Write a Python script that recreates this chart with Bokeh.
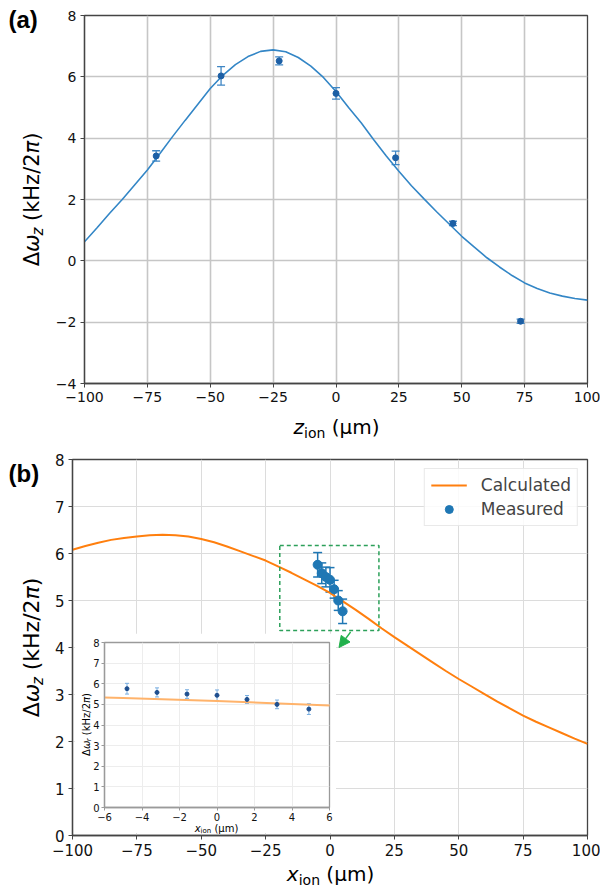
from bokeh.plotting import figure
from bokeh.models import (Range1d, FixedTicker, Whisker, TeeHead, ColumnDataSource,
                          Label, Legend, LegendItem, Arrow, NormalHead, Plot)
from bokeh.layouts import column
from bokeh.embed import file_html
from bokeh.resources import INLINE

# ---------------- panel (a) data ----------------
z_meas = [-71.5, -45.7, -22.6, 0.0, 23.7, 46.5, 73.4]
dwz_meas = [3.42, 6.03, 6.52, 5.46, 3.36, 1.22, -1.97]
dwz_err = [0.17, 0.30, 0.13, 0.19, 0.22, 0.07, 0.07]
z_curve = [-100, -95, -90, -85, -80, -75, -70, -65, -60, -55, -50, -45, -40, -35, -30,
           -25, -20, -15, -10, -5, 0, 5, 10, 15, 20, 25, 30, 35, 40, 45, 50, 55, 60,
           65, 70, 75, 80, 85, 90, 95, 100]
dwz_curve = [0.62, 1.08, 1.55, 2.00, 2.48, 2.96, 3.50, 4.05, 4.58, 5.10, 5.62, 6.05,
             6.40, 6.66, 6.83, 6.88, 6.82, 6.63, 6.35, 5.98, 5.52, 5.00, 4.50, 3.95,
             3.42, 2.92, 2.45, 2.02, 1.60, 1.20, 0.80, 0.45, 0.10, -0.20, -0.48, -0.72,
             -0.90, -1.05, -1.15, -1.23, -1.28]
a_xticks = [-100, -75, -50, -25, 0, 25, 50, 75, 100]
a_yticks = [-4, -2, 0, 2, 4, 6, 8]

# ---------------- panel (b) data ----------------
x_curve = z_curve
dwx_curve = [6.08, 6.16, 6.23, 6.29, 6.33, 6.36, 6.39, 6.40, 6.39, 6.36, 6.31, 6.24,
             6.15, 6.05, 5.95, 5.85, 5.72, 5.59, 5.45, 5.31, 5.16, 4.98, 4.80, 4.61,
             4.41, 4.22, 4.04, 3.86, 3.68, 3.50, 3.33, 3.17, 3.01, 2.85, 2.70, 2.55,
             2.42, 2.30, 2.18, 2.06, 1.95]
x_meas = [-4.8, -3.2, -1.6, 0.0, 1.6, 3.2, 4.9]
dwx_meas = [5.76, 5.58, 5.50, 5.44, 5.24, 5.00, 4.77]
dwx_err = [0.26, 0.22, 0.21, 0.26, 0.19, 0.21, 0.26]
b_xticks = [-100, -75, -50, -25, 0, 25, 50, 75, 100]
b_yticks = [0, 1, 2, 3, 4, 5, 6, 7, 8]
zoom_box_x = [-19.5, 19.0]
zoom_box_y = [4.36, 6.17]
arrow_x = [8.0, 3.5]
arrow_y = [4.33, 4.0]
inset_xticks = [-6, -4, -2, 0, 2, 4, 6]
inset_yticks = [0, 1, 2, 3, 4, 5, 6, 7, 8]
legend_labels = ["Calculated", "Measured"]

FONT = "DejaVu Sans"
EM = {" ": 0.318, "(": 0.390, ")": 0.390, "/": 0.337, "2": 0.636, "k": 0.579,
      "H": 0.752, "z": 0.524, "x": 0.592, "i": 0.278, "o": 0.612, "n": 0.634,
      "µ": 0.636, "m": 0.974, "r": 0.411, "Δ": 0.685, "ω": 0.78, "π": 0.60}
HAS_ALIGN = "frame_align" in Plot.properties()
SHIFT = 0.32  # vertical offset (in em) that the label box adds below its anchor


def no_align(p):
    if HAS_ALIGN:
        p.frame_align = False
    return p


def tw(s, size):
    return sum(EM.get(c, 0.6) for c in s) * size


def neg(t):
    return ("\u2212" + str(abs(t))) if t < 0 else str(t)


def style(p, xt, yt, fs, grid_color, grid_w, axis_color="#444444"):
    p.xaxis.ticker = FixedTicker(ticks=xt)
    p.yaxis.ticker = FixedTicker(ticks=yt)
    p.xaxis.major_label_overrides = {t: neg(t) for t in xt}
    p.yaxis.major_label_overrides = {t: neg(t) for t in yt}
    for ax in (p.xaxis, p.yaxis):
        ax.major_label_text_font = FONT
        ax.major_label_text_font_size = fs
        ax.major_label_text_color = "#111111"
        ax.major_tick_in = 0
        ax.major_tick_out = 4
        ax.minor_tick_line_color = None
        ax.axis_line_color = axis_color
        ax.major_tick_line_color = axis_color
        ax.axis_line_width = 1.3
        ax.major_label_standoff = 4
    p.grid.grid_line_color = grid_color
    p.grid.grid_line_width = grid_w
    p.outline_line_color = axis_color
    p.outline_line_width = 1.3
    p.background_fill_color = "white"
    p.border_fill_color = "white"


# ---------------- panel (a) ----------------
pa = figure(width=600, height=440, x_range=Range1d(-100, 100), y_range=Range1d(-4, 8),
            output_backend="svg", toolbar_location=None,
            min_border_left=84, min_border_right=13, min_border_top=15, min_border_bottom=57)
no_align(pa)
style(pa, a_xticks, a_yticks, "14px", "#c6c6c6", 1.6)
pa.line(z_curve, dwz_curve, line_color="#3386c6", line_width=1.6)
src_a = ColumnDataSource(dict(x=z_meas, y=dwz_meas,
                              lo=[v - e for v, e in zip(dwz_meas, dwz_err)],
                              hi=[v + e for v, e in zip(dwz_meas, dwz_err)]))
pa.add_layout(Whisker(source=src_a, base="x", lower="lo", upper="hi", line_color="#3f86c4",
                      line_width=1.3,
                      upper_head=TeeHead(size=8, line_color="#3f86c4", line_width=1.3),
                      lower_head=TeeHead(size=8, line_color="#3f86c4", line_width=1.3)))
pa.scatter("x", "y", source=src_a, size=6, color="#1c5fa5")

# ---------------- panel (b) ----------------
pb = figure(width=600, height=450, x_range=Range1d(-100, 100), y_range=Range1d(0, 8),
            output_backend="svg", toolbar_location=None,
            min_border_left=72, min_border_right=13, min_border_top=19, min_border_bottom=55)
no_align(pb)
style(pb, b_xticks, b_yticks, "15px", "#dcdcdc", 1.0)
line_b = pb.line(x_curve, dwx_curve, line_color="#ff7f0e", line_width=2)
src_b = ColumnDataSource(dict(x=x_meas, y=dwx_meas,
                              lo=[v - e for v, e in zip(dwx_meas, dwx_err)],
                              hi=[v + e for v, e in zip(dwx_meas, dwx_err)]))
pb.add_layout(Whisker(source=src_b, base="x", lower="lo", upper="hi", line_color="#1f77b4",
                      line_width=1.5,
                      upper_head=TeeHead(size=9, line_color="#1f77b4", line_width=1.5),
                      lower_head=TeeHead(size=9, line_color="#1f77b4", line_width=1.5)))
sc_b = pb.scatter("x", "y", source=src_b, size=9, color="#1f77b4")
pb.quad(left=[zoom_box_x[0]], right=[zoom_box_x[1]], bottom=[zoom_box_y[0]],
        top=[zoom_box_y[1]], fill_alpha=0, line_color="#2ca05a", line_dash="4 3",
        line_width=1.5)
pb.add_layout(Arrow(x_start=arrow_x[0], y_start=arrow_y[0], x_end=arrow_x[1], y_end=arrow_y[1],
                    line_color="#22b14c", line_width=1.3,
                    end=NormalHead(size=11, fill_color="#22b14c", line_color="#22b14c")))
leg = Legend(items=[LegendItem(label=legend_labels[0], renderers=[line_b]),
                    LegendItem(label=legend_labels[1], renderers=[sc_b])],
             location="top_right", label_text_font=FONT, label_text_font_size="17px",
             glyph_width=36, glyph_height=20, label_height=20, spacing=4, padding=6,
             margin=9, label_standoff=14, border_line_color="#d4d4d4",
             background_fill_alpha=0.85)
pb.add_layout(leg)

# ---------------- inset ----------------
pi = figure(width=262, height=200, x_range=Range1d(-6, 6), y_range=Range1d(0, 8),
            output_backend="svg", toolbar_location=None,
            min_border_left=30, min_border_right=7, min_border_top=9, min_border_bottom=26,
            styles={"position": "absolute", "left": "74px", "top": "633px"})
no_align(pi)
style(pi, inset_xticks, inset_yticks, "10px", "#ededed", 1.0, axis_color="#9a9a9a")
for ax in (pi.xaxis, pi.yaxis):
    ax.major_tick_out = 3
    ax.major_label_standoff = 2
pi.line(x_curve, dwx_curve, line_color="#ffb36b", line_width=2)
pi.add_layout(Whisker(source=src_b, base="x", lower="lo", upper="hi", line_color="#79aee0",
                      line_width=1,
                      upper_head=TeeHead(size=4, line_color="#79aee0", line_width=1),
                      lower_head=TeeHead(size=4, line_color="#79aee0", line_width=1)))
pi.scatter("x", "y", source=src_b, size=4, color="#1f4f8f")

# ---------------- text overlay (axis labels with sub-scripts, panel tags) ----------------
H = 890
ov = figure(width=600, height=H, x_range=Range1d(0, 600), y_range=Range1d(0, H),
            output_backend="svg", toolbar_location=None, min_border=0, title=None,
            x_axis_location=None, y_axis_location=None,
            background_fill_color=None, border_fill_color=None, outline_line_color=None,
            styles={"position": "absolute", "left": "0px", "top": "0px"})
no_align(ov)
ov.xgrid.visible = False
ov.ygrid.visible = False


def rich(pieces, sx, sy, vertical=False):
    """pieces: (text, size, italic, drop); sx, sy: page pixels of the baseline start."""
    pos = 0.0
    for text, size, italic, drop in pieces:
        gap = tw(text[:len(text) - len(text.lstrip())], size)
        body = text.strip()
        pos += gap
        corr = SHIFT * size
        if vertical:
            lx, ly = sx + drop - corr, (H - sy) + pos
        else:
            lx, ly = sx + pos, (H - sy) - drop + corr
        ov.add_layout(Label(x=lx, y=ly, text=body, text_font=FONT,
                            text_font_size=f"{size}px",
                            text_font_style="italic" if italic else "normal",
                            text_color="black", angle=1.5708 if vertical else 0.0,
                            text_align="left", text_baseline="alphabetic"))
        pos += tw(body, size)


def width_of(pieces):
    return sum(tw(t, s) for t, s, _, _ in pieces)


def centered(pieces, cx, sy):
    rich(pieces, cx - width_of(pieces) / 2, sy)


def centered_v(pieces, bx, cy):
    rich(pieces, bx, cy + width_of(pieces) / 2, vertical=True)


def ylabel_pieces(s, sub_letter, sub_s, drop):
    return [("Δ", s, False, 0), ("ω", s, True, 0), (sub_letter, sub_s, True, drop),
            (" (kHz/2", s, False, 0), ("π", s, True, 0), (")", s, False, 0)]


def xlabel_pieces(letter, s, sub_s, drop):
    return [(letter, s, True, 0), ("ion", sub_s, False, drop), (" (µm)", s, False, 0)]


for tag, ty in (("(a)", 13), ("(b)", 467)):
    ov.add_layout(Label(x=8, y=H - ty + SHIFT * 24, text=tag, text_font="Liberation Sans",
                        text_font_size="24px", text_font_style="bold", text_color="black",
                        text_baseline="top", text_align="left"))

centered(xlabel_pieces("z", 20, 14, 4), 336, 433)
centered_v(ylabel_pieces(21, "z", 15, 4), 38, 199)
centered(xlabel_pieces("x", 20, 14, 4), 330, 880)
centered_v(ylabel_pieces(22, "z", 15, 4), 38, 647)
centered(xlabel_pieces("x", 10, 7, 2), 216, 831)
centered_v(ylabel_pieces(10, "r", 7, 2), 89, 724)

layout = column(pa, pb, pi, ov)
open("out.html", "w").write(file_html(layout, INLINE))
